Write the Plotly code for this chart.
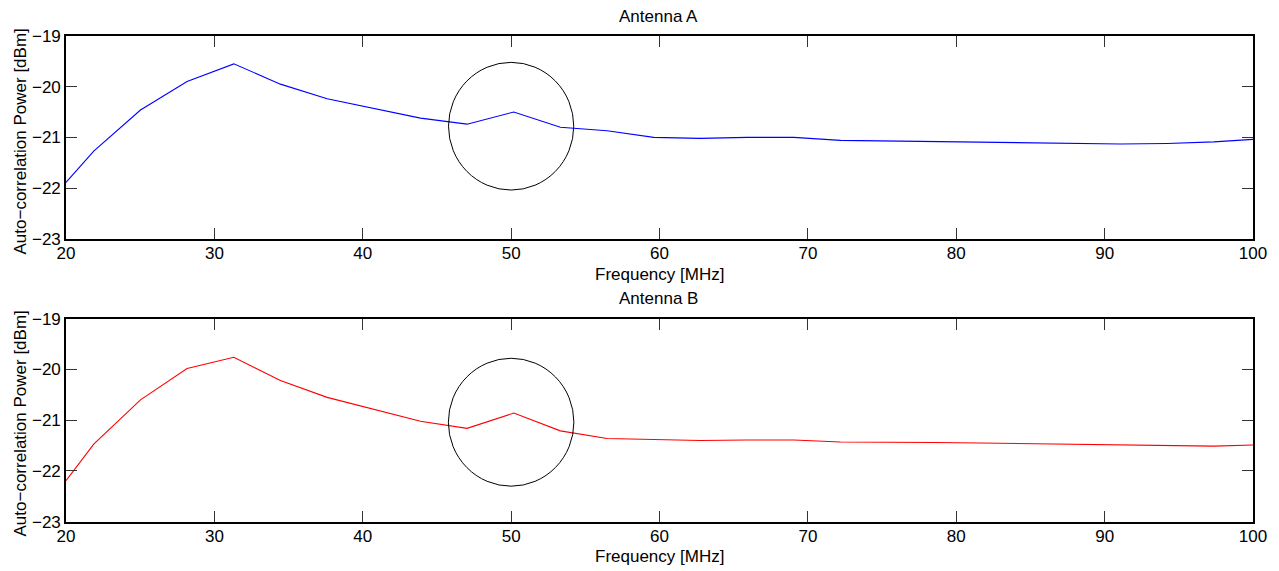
import plotly.graph_objects as go
from plotly.subplots import make_subplots

# Frequency channels [MHz]
freq = [20.0, 21.87, 25.02, 28.16, 31.31, 34.45, 37.6, 40.74, 43.89, 47.03,
        50.18, 53.32, 56.47, 59.61, 62.76, 65.9, 69.05, 72.2, 75.34, 78.49,
        81.63, 84.78, 87.92, 91.07, 94.21, 97.36, 100.0]

# Auto-correlation power [dBm]
power_a = [-21.89, -21.27, -20.46, -19.90, -19.55, -19.95, -20.24, -20.43, -20.62, -20.74,
           -20.50, -20.80, -20.87, -21.00, -21.02, -21.00, -21.00, -21.06, -21.07, -21.09,
           -21.10, -21.11, -21.12, -21.13, -21.12, -21.09, -21.04]
power_b = [-22.19, -21.47, -20.60, -19.98, -19.76, -20.22, -20.55, -20.78, -21.02, -21.16,
           -20.86, -21.21, -21.36, -21.38, -21.40, -21.39, -21.39, -21.43, -21.43, -21.44,
           -21.45, -21.46, -21.47, -21.48, -21.49, -21.51, -21.49]

titles = ["Antenna A", "Antenna B"]
x_ticks = [20, 30, 40, 50, 60, 70, 80, 90, 100]
y_ticks = [-23, -22, -21, -20, -19]

# Highlight rings around the 50 MHz feature: (centre freq, centre power, half-width MHz, half-height dB)
rings = [(50.0, -20.78, 4.22, 1.26), (50.0, -21.04, 4.23, 1.26)]

W, H = 1279, 571
L, R = 65.5, 26.3
plot_w = W - L - R

def px_x(px):
    return (px - L) / plot_w

def px_y(py):
    return 1 - py / H

FONT = "Liberation Sans, Arial, Helvetica, sans-serif"
FS = 17

fig = make_subplots(rows=2, cols=1)

for i, (vals, color) in enumerate([(power_a, "#0000ff"), (power_b, "#ff0000")], start=1):
    fig.add_trace(go.Scatter(x=freq, y=vals, mode="lines",
                             line=dict(color=color, width=1.1),
                             showlegend=False, hoverinfo="x+y"), row=i, col=1)

axis_common = dict(showline=True, linecolor="black", linewidth=1.6, mirror="ticks",
                   ticks="inside", ticklen=11, tickwidth=1, tickcolor="#333333",
                   showgrid=False, zeroline=False, automargin=False,
                   tickfont=dict(family=FONT, size=FS, color="black"))

domains = [(px_y(238.7), px_y(36)), (px_y(521.7), px_y(318.7))]
for i in (1, 2):
    fig.update_xaxes(range=[20, 100], tickvals=x_ticks, ticklabelstandoff=-2,
                     row=i, col=1, **axis_common)
    fig.update_yaxes(range=[-23, -19], tickvals=y_ticks, domain=list(domains[i - 1]),
                     row=i, col=1, **axis_common)

shapes = []
for (cx, cy, rx, ry), ax in zip(rings, ["", "2"]):
    shapes.append(dict(type="circle", xref="x" + ax, yref="y" + ax,
                       x0=cx - rx, x1=cx + rx, y0=cy - ry, y1=cy + ry,
                       line=dict(color="black", width=1)))

annotations = []
for title, ty, xl_y, yl_y in [(titles[0], 16, 274, 141.5), (titles[1], 298.5, 556.5, 423.5)]:
    annotations.append(dict(text=title, xref="paper", yref="paper",
                            x=px_x(658.5), y=px_y(ty), showarrow=False,
                            xanchor="center", yanchor="middle",
                            font=dict(family=FONT, size=FS, color="black")))
    annotations.append(dict(text="Frequency [MHz]", xref="paper", yref="paper",
                            x=px_x(659), y=px_y(xl_y), showarrow=False,
                            xanchor="center", yanchor="middle",
                            font=dict(family=FONT, size=FS, color="black")))
    annotations.append(dict(text="Auto\u2212correlation Power [dBm]", xref="paper", yref="paper",
                            x=px_x(19.5), y=px_y(yl_y), showarrow=False, textangle=-90,
                            xanchor="center", yanchor="middle",
                            font=dict(family=FONT, size=FS, color="black")))

fig.update_layout(template="none", width=W, height=H,
                  margin=dict(l=L, r=R, t=0, b=0, pad=0, autoexpand=False),
                  paper_bgcolor="white", plot_bgcolor="white",
                  shapes=shapes, annotations=annotations)

fig.write_html("out.html")
